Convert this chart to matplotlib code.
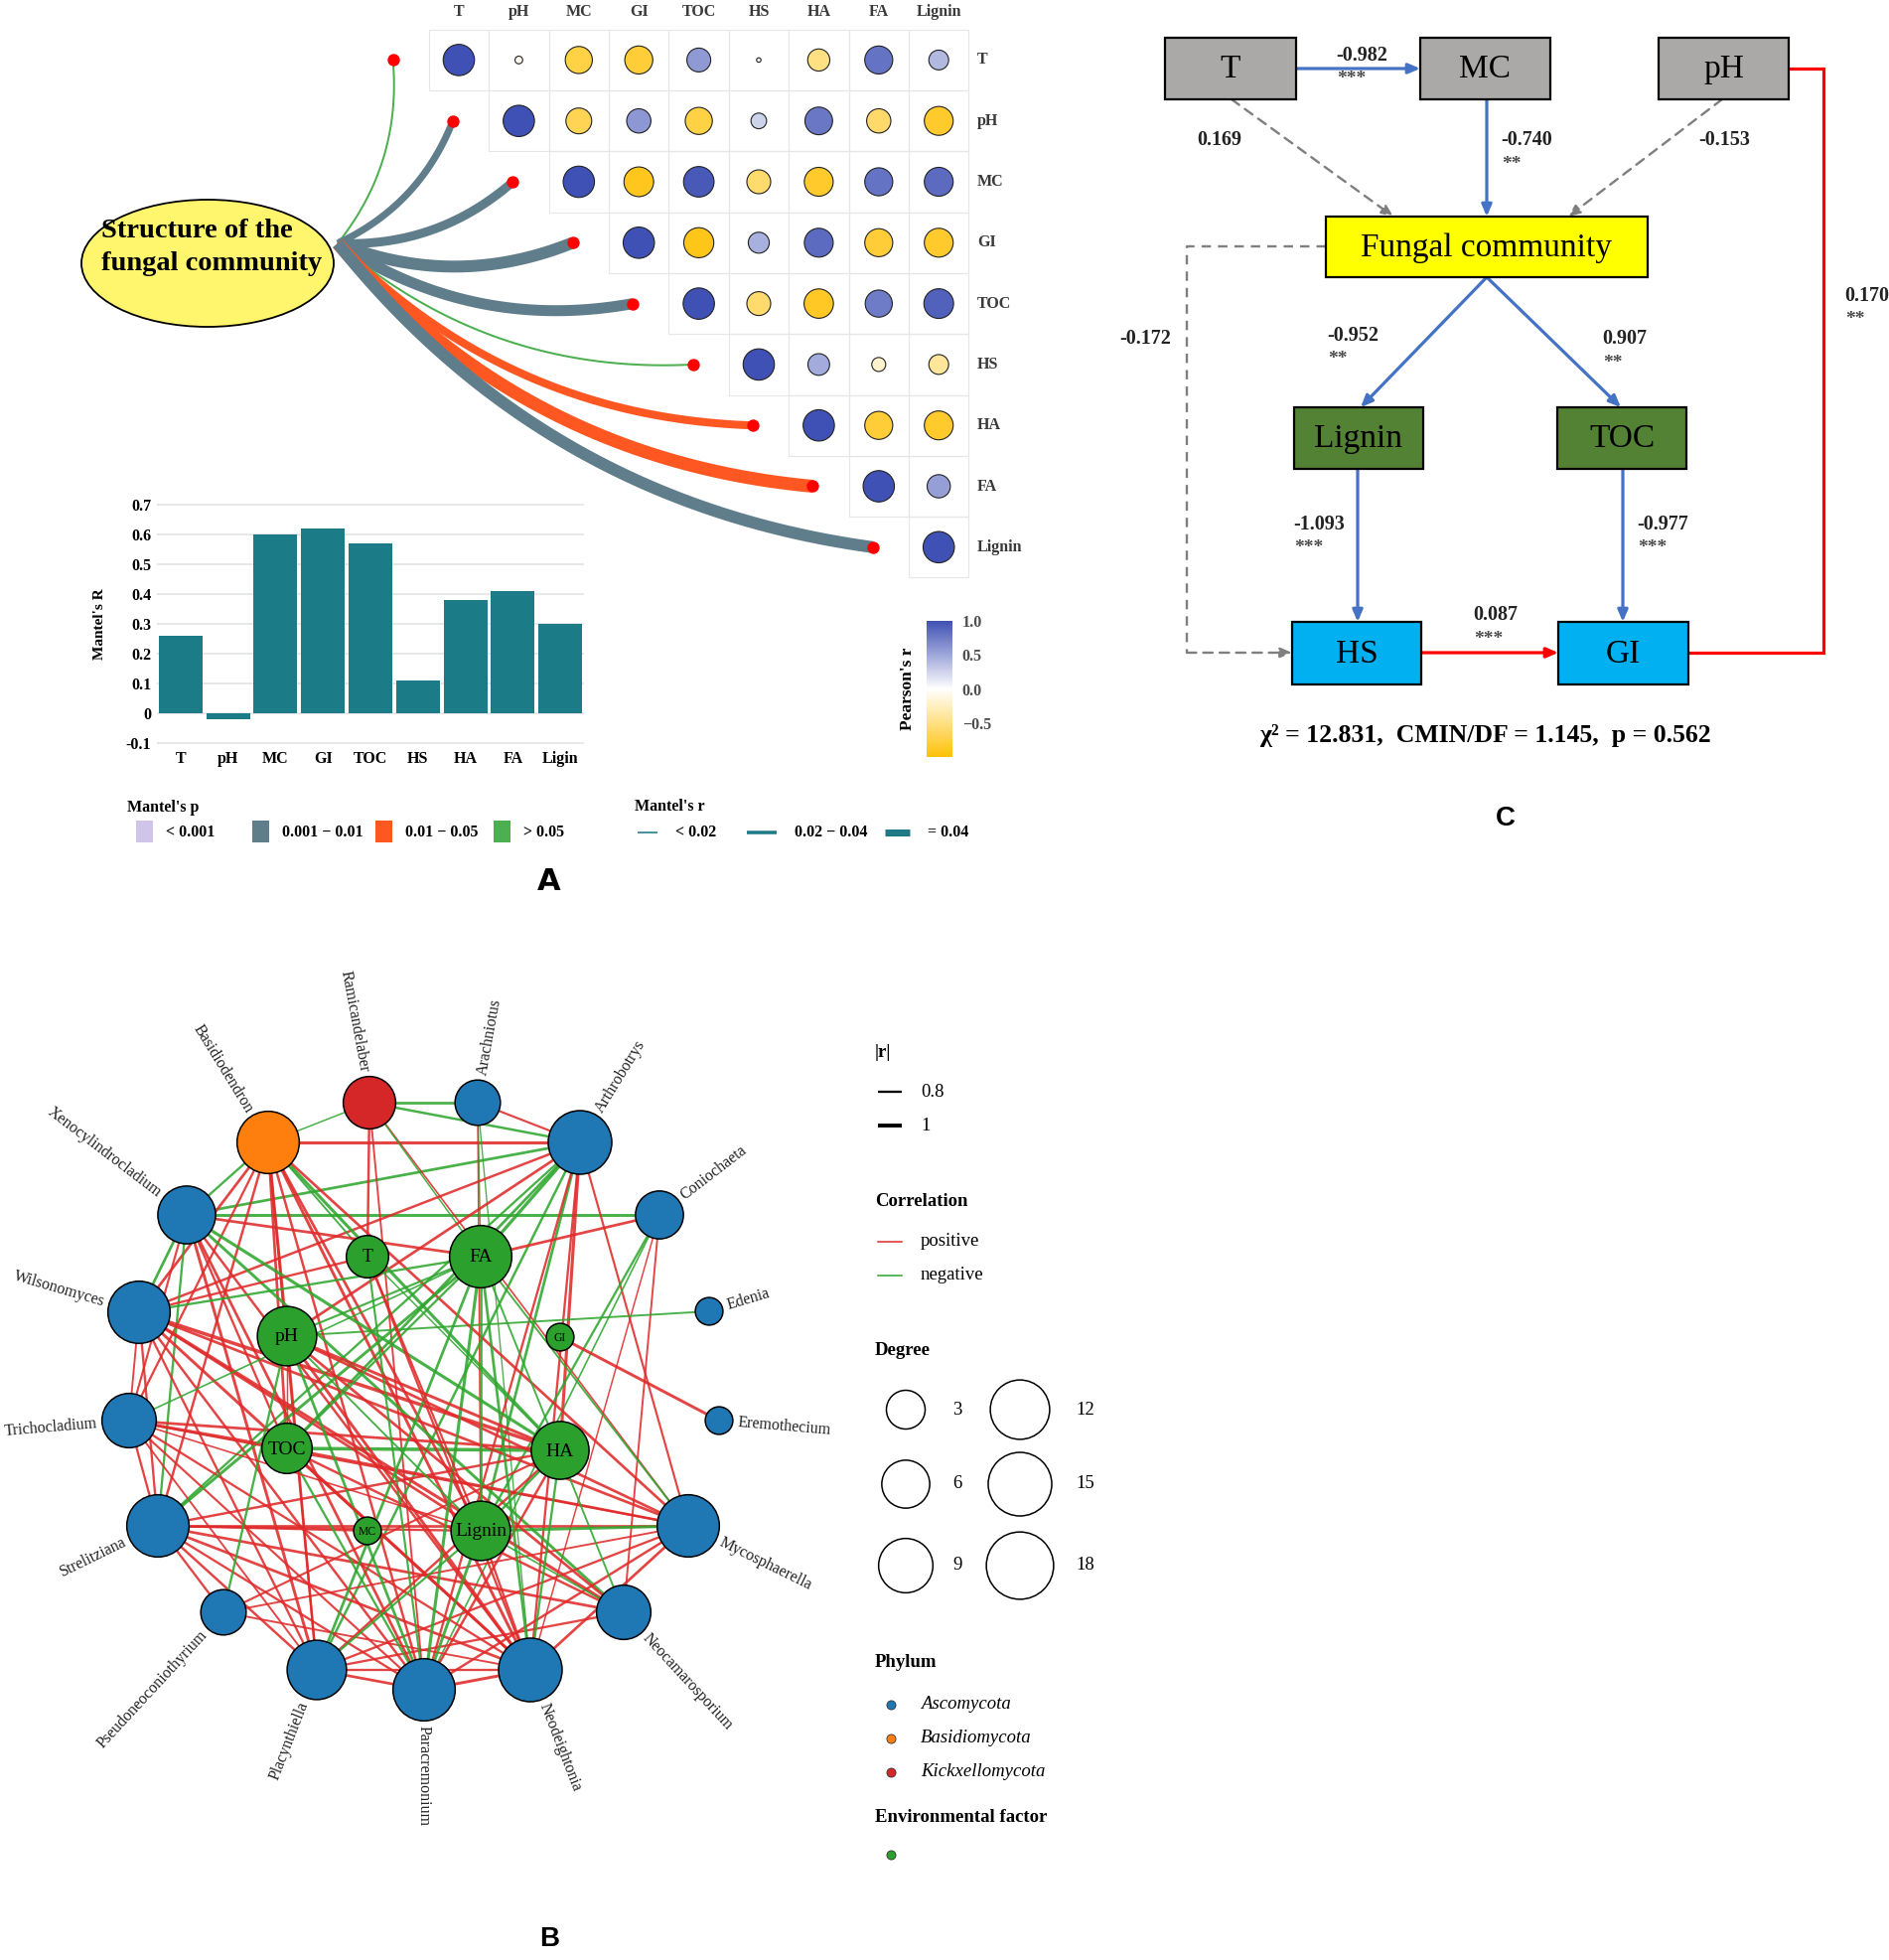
import matplotlib
matplotlib.use("Agg")
import matplotlib.pyplot as plt
import numpy as np
from matplotlib.patches import Ellipse, Rectangle, Circle
from matplotlib.colors import LinearSegmentedColormap, Normalize

W, H = 1902, 1973
SERIF = ["Liberation Serif", "DejaVu Serif"]
plt.rcParams["font.family"] = SERIF

# ---------------- panel A data ----------------
env_vars = ["T", "pH", "MC", "GI", "TOC", "HS", "HA", "FA", "Lignin"]
# upper triangle of Pearson's r, row i holds columns i..8
pearson_upper = [
    [1.0, -0.06, -0.75, -0.80, 0.58, 0.02, -0.50, 0.80, 0.40],
    [1.0, -0.68, 0.60, -0.75, 0.25, 0.78, -0.60, -0.85],
    [1.0, -0.90, 0.95, -0.58, -0.85, 0.80, 0.85],
    [1.0, -0.92, 0.45, 0.85, -0.80, -0.85],
    [1.0, -0.58, -0.88, 0.75, 0.90],
    [1.0, 0.48, -0.20, -0.40],
    [1.0, -0.80, -0.85],
    [1.0, 0.55],
    [1.0],
]
mantel_R = [0.26, -0.02, 0.60, 0.62, 0.57, 0.11, 0.38, 0.41, 0.30]
bar_labels = ["T", "pH", "MC", "GI", "TOC", "HS", "HA", "FA", "Ligin"]
mantel_p = [0.12, 0.004, 0.002, 0.002, 0.003, 0.35, 0.02, 0.015, 0.003]
link_r = [0.010, 0.035, 0.045, 0.060, 0.055, 0.010, 0.040, 0.065, 0.060]
p_labels = ["< 0.001", "0.001 \u2212 0.01", "0.01 \u2212 0.05", "> 0.05"]
r_labels = ["< 0.02", "0.02 \u2212 0.04", "= 0.04"]

# ---------------- panel C data ----------------
sem_boxes = ["T", "MC", "pH", "Fungal community", "Lignin", "TOC", "HS", "GI"]
sem_paths = [("T", "MC", "-0.982", "***", "neg"),
             ("T", "Fungal community", "0.169", "", "ns"),
             ("MC", "Fungal community", "-0.740", "**", "neg"),
             ("pH", "Fungal community", "-0.153", "", "ns"),
             ("Fungal community", "Lignin", "-0.952", "**", "neg"),
             ("Fungal community", "TOC", "0.907", "**", "neg"),
             ("Lignin", "HS", "-1.093", "***", "neg"),
             ("TOC", "GI", "-0.977", "***", "neg"),
             ("HS", "GI", "0.087", "***", "pos"),
             ("GI", "pH", "0.170", "**", "pos"),
             ("Fungal community", "HS", "-0.172", "", "ns")]
fit_text = "\u03c7\u00b2 = 12.831,  CMIN/DF = 1.145,  p = 0.562"

# ---------------- panel B data ----------------
genera = ["Ramicandelaber", "Arachniotus", "Basidiodendron", "Arthrobotrys",
          "Xenocylindrocladium", "Coniochaeta", "Wilsonomyces", "Edenia",
          "Trichocladium", "Eremothecium", "Strelitziana", "Mycosphaerella",
          "Pseudoneoconiothyrium", "Neocamarosporium", "Placynthiella",
          "Paracremonium", "Neodeightonia"]
genus_phylum = ["Kickxellomycota", "Ascomycota", "Basidiomycota", "Ascomycota",
                "Ascomycota", "Ascomycota", "Ascomycota", "Ascomycota",
                "Ascomycota", "Ascomycota", "Ascomycota", "Ascomycota",
                "Ascomycota", "Ascomycota", "Ascomycota", "Ascomycota", "Ascomycota"]
genus_degree = [8, 5, 14, 15, 11, 6, 14, 1, 9, 1, 14, 14, 5, 9, 12, 14, 15]
factors = ["T", "FA", "pH", "GI", "TOC", "HA", "MC", "Lignin"]
factor_degree = [4, 14, 12, 1, 7, 11, 1, 12]
phyla = ["Ascomycota", "Basidiomycota", "Kickxellomycota"]
degree_legend = [3, 6, 9, 12, 15, 18]
r_legend = [0.8, 1.0]
edges = [
    ("Ramicandelaber", "Arachniotus", -0.85), ("Ramicandelaber", "Arthrobotrys", -0.82),
    ("Arachniotus", "Arthrobotrys", 0.78), ("Basidiodendron", "Arthrobotrys", 0.90),
    ("Basidiodendron", "Ramicandelaber", -0.70), ("Xenocylindrocladium", "Coniochaeta", -0.88),
    ("Xenocylindrocladium", "Arthrobotrys", -0.85), ("Xenocylindrocladium", "Basidiodendron", -0.80),
    ("Ramicandelaber", "T", 0.82), ("Ramicandelaber", "Paracremonium", 0.75),
    ("Ramicandelaber", "Mycosphaerella", 0.72), ("Ramicandelaber", "FA", -0.70),
    ("Arachniotus", "FA", -0.70), ("Arachniotus", "Lignin", 0.70),
    ("Arachniotus", "Neodeightonia", -0.68), ("Arthrobotrys", "FA", -0.92),
    ("Arthrobotrys", "pH", 0.85), ("Arthrobotrys", "Wilsonomyces", 0.82),
    ("Arthrobotrys", "TOC", -0.85), ("Arthrobotrys", "HA", 0.90),
    ("Arthrobotrys", "Lignin", -0.85), ("Arthrobotrys", "Neodeightonia", 0.80),
    ("Arthrobotrys", "Placynthiella", -0.82), ("Arthrobotrys", "Mycosphaerella", 0.78),
    ("Arthrobotrys", "Strelitziana", -0.80), ("Arthrobotrys", "Paracremonium", 0.80),
    ("Coniochaeta", "FA", 0.85), ("Coniochaeta", "Lignin", -0.80),
    ("Coniochaeta", "Paracremonium", -0.72), ("Coniochaeta", "Neodeightonia", 0.70),
    ("Coniochaeta", "Neocamarosporium", 0.75), ("Edenia", "pH", -0.75),
    ("GI", "Eremothecium", 0.88), ("TOC", "HA", -0.95),
    ("Basidiodendron", "HA", -0.90), ("Basidiodendron", "Lignin", 0.85),
    ("Basidiodendron", "Neodeightonia", 0.88), ("Basidiodendron", "Mycosphaerella", 0.85),
    ("Basidiodendron", "Paracremonium", 0.82), ("Basidiodendron", "Placynthiella", 0.80),
    ("Basidiodendron", "TOC", 0.85), ("Basidiodendron", "T", -0.75),
    ("Basidiodendron", "pH", 0.85), ("Basidiodendron", "Strelitziana", 0.82),
    ("Basidiodendron", "Trichocladium", 0.80), ("Basidiodendron", "Wilsonomyces", 0.85),
    ("Xenocylindrocladium", "FA", 0.85), ("Xenocylindrocladium", "HA", -0.90),
    ("Xenocylindrocladium", "Neocamarosporium", -0.88), ("Xenocylindrocladium", "Paracremonium", 0.85),
    ("Xenocylindrocladium", "Placynthiella", 0.88), ("Xenocylindrocladium", "Neodeightonia", 0.82),
    ("Xenocylindrocladium", "TOC", 0.80), ("Xenocylindrocladium", "Strelitziana", -0.80),
    ("Xenocylindrocladium", "Trichocladium", 0.78), ("Xenocylindrocladium", "Wilsonomyces", -0.85),
    ("Wilsonomyces", "HA", 0.95), ("Wilsonomyces", "Neocamarosporium", 0.90),
    ("Wilsonomyces", "T", 0.80), ("Wilsonomyces", "FA", -0.80),
    ("Wilsonomyces", "Lignin", 0.85), ("Wilsonomyces", "Neodeightonia", 0.88),
    ("Wilsonomyces", "Mycosphaerella", 0.85), ("Wilsonomyces", "Paracremonium", 0.82),
    ("Wilsonomyces", "Placynthiella", 0.80), ("Wilsonomyces", "Strelitziana", 0.80),
    ("Wilsonomyces", "Trichocladium", 0.75), ("Trichocladium", "TOC", 0.88),
    ("Trichocladium", "HA", 0.85), ("Trichocladium", "FA", -0.72),
    ("Trichocladium", "Neodeightonia", 0.80), ("Trichocladium", "Paracremonium", 0.78),
    ("Trichocladium", "Strelitziana", 0.80), ("Trichocladium", "Placynthiella", 0.75),
    ("Strelitziana", "Mycosphaerella", 0.85), ("Strelitziana", "FA", -0.88),
    ("Strelitziana", "Lignin", 0.80), ("Strelitziana", "HA", 0.82),
    ("Strelitziana", "Neodeightonia", 0.85), ("Strelitziana", "Neocamarosporium", 0.85),
    ("Strelitziana", "Paracremonium", 0.80), ("Strelitziana", "Placynthiella", 0.82),
    ("Strelitziana", "Pseudoneoconiothyrium", 0.80), ("Strelitziana", "MC", 0.75),
    ("Mycosphaerella", "Lignin", -0.88), ("Mycosphaerella", "pH", 0.85),
    ("Mycosphaerella", "TOC", 0.82), ("Mycosphaerella", "FA", -0.75),
    ("Mycosphaerella", "Neodeightonia", 0.85), ("Mycosphaerella", "Paracremonium", 0.82),
    ("Mycosphaerella", "Placynthiella", 0.80), ("Mycosphaerella", "Trichocladium", 0.78),
    ("Mycosphaerella", "Pseudoneoconiothyrium", 0.75), ("Pseudoneoconiothyrium", "pH", -0.80),
    ("Pseudoneoconiothyrium", "HA", 0.78), ("Pseudoneoconiothyrium", "Neodeightonia", 0.75),
    ("Neocamarosporium", "pH", 0.85), ("Neocamarosporium", "TOC", 0.82),
    ("Neocamarosporium", "FA", -0.75), ("Neocamarosporium", "Placynthiella", 0.80),
    ("Neocamarosporium", "Lignin", -0.72), ("Placynthiella", "FA", -0.85),
    ("Placynthiella", "pH", 0.80), ("Placynthiella", "HA", 0.82),
    ("Placynthiella", "Paracremonium", 0.85), ("Placynthiella", "Neodeightonia", 0.80),
    ("Paracremonium", "FA", -0.90), ("Paracremonium", "pH", -0.85),
    ("Paracremonium", "TOC", -0.80), ("Paracremonium", "T", -0.78),
    ("Paracremonium", "HA", 0.82), ("Paracremonium", "Neodeightonia", 0.88),
    ("Neodeightonia", "FA", -0.85), ("Neodeightonia", "pH", 0.88),
    ("Neodeightonia", "TOC", 0.85), ("Neodeightonia", "T", 0.80),
    ("Neodeightonia", "HA", -0.80), ("pH", "HA", 0.88),
    ("pH", "Lignin", -0.75), ("pH", "TOC", 0.70),
    ("FA", "Lignin", -0.85), ("FA", "TOC", -0.80), ("FA", "pH", -0.78),
    ("T", "Lignin", 0.78), ("T", "HA", -0.70), ("Lignin", "HA", -0.80),
    ("Lignin", "Paracremonium", -0.88), ("Lignin", "Neodeightonia", 0.80),
    ("Lignin", "Placynthiella", -0.78), ("Lignin", "Trichocladium", 0.72),
]

# ---------------- figure ----------------
fig = plt.figure(figsize=(W / 100, H / 100), dpi=100)
ax = fig.add_axes([0, 0, 1, 1])
ax.set_xlim(0, W)
ax.set_ylim(H, 0)
ax.axis("off")


def px_axes(x0, y0, x1, y1):
    return fig.add_axes([x0 / W, 1 - y1 / H, (x1 - x0) / W, (y1 - y0) / H])


def bezier(p0, p2, rad, n=80):
    p0 = np.array(p0, float)
    p2 = np.array(p2, float)
    d = p2 - p0
    ctrl = (p0 + p2) / 2 + rad * np.array([-d[1], d[0]])
    t = np.linspace(0, 1, n)[:, None]
    return (1 - t) ** 2 * p0 + 2 * (1 - t) * t * ctrl + t ** 2 * p2


PX = 72 / 100  # px -> points

# ===== panel A : correlation matrix =====
cmap = LinearSegmentedColormap.from_list("pr", ["#FFC107", "#FFFFFF", "#3F51B5"])
norm = Normalize(-1, 1)
cx0, cdx = 462, 60.4
ry0, rdy = 60.4, 61.3
xs, ys, vals = [], [], []
for i, row in enumerate(pearson_upper):
    for k, v in enumerate(row):
        j = i + k
        ax.add_patch(Rectangle((cx0 + j * cdx - cdx / 2, ry0 + i * rdy - rdy / 2), cdx, rdy,
                               fill=False, ec="#E6E6E6", lw=0.8, zorder=1))
        xs.append(cx0 + j * cdx)
        ys.append(ry0 + i * rdy)
        vals.append(v)
vals = np.array(vals)
sc = ax.scatter(xs, ys, s=np.abs(vals) * (31.5 * PX) ** 2, c=vals, cmap=cmap, norm=norm,
                edgecolors="#222222", linewidths=0.8, zorder=3)
for j, name in enumerate(env_vars):
    ax.text(cx0 + j * cdx, 12, name, ha="center", va="center", fontsize=11.5,
            fontweight="bold", color="#3A3A3A")
    ax.text(984, ry0 + j * rdy, name, ha="left", va="center", fontsize=11.5,
            fontweight="bold", color="#3A3A3A")

# mantel links
p_colors = ["#D1C4E9", "#607D8B", "#FF5722", "#4CAF50"]


def p_class(p):
    return 0 if p < 0.001 else 1 if p < 0.01 else 2 if p < 0.05 else 3


anchor = (340, 245)
for i in range(len(env_vars)):
    end = (cx0 + (i - 1) * cdx - 6, ry0 + i * rdy)
    pts = bezier(anchor, end, 0.2)
    ax.plot(pts[:, 0], pts[:, 1], color=p_colors[p_class(mantel_p[i])],
            lw=link_r[i] * 200 * PX, solid_capstyle="butt", zorder=2)
    ax.plot(*end, "o", color="#FF0000", ms=11 * PX, zorder=4)

ax.add_patch(Ellipse((209, 265), 254, 128, fc="#FFF66E", ec="black", lw=1.3, zorder=5))
ax.text(102, 249, "Structure of the\nfungal community", ha="left", va="center",
        multialignment="left", fontsize=20.5, fontweight="bold", linespacing=1.4, zorder=6)

# colorbar
cax = px_axes(933, 625, 959, 762)
cb = fig.colorbar(sc, cax=cax, ticks=[-0.5, 0, 0.5, 1.0])
cb.outline.set_visible(False)
cb.ax.set_yticklabels(["\u22120.5", "0.0", "0.5", "1.0"])
cb.ax.tick_params(length=3, color="white", labelsize=11.5, labelcolor="#4D4D4D", pad=4)
for t in cb.ax.get_yticklabels():
    t.set_fontweight("bold")
cb.ax.yaxis.set_label_position("left")
cb.set_label("Pearson's r", fontsize=12.5, fontweight="bold", labelpad=8)

# bar chart
axb = px_axes(158, 505, 588, 751.5)
xpos = np.arange(len(mantel_R))
axb.bar(xpos, mantel_R, width=0.92, color="#1B7B87", zorder=3)
axb.set_xlim(-0.5, len(mantel_R) - 0.5)
axb.set_ylim(-0.11, 0.71)
yt = np.round(np.arange(-0.1, 0.71, 0.1), 1)
axb.set_yticks(yt)
axb.set_yticklabels([f"{v:g}" for v in yt])
axb.set_xticks(xpos)
axb.set_xticklabels(bar_labels)
axb.grid(axis="y", color="#E6E6E6", lw=1.3, zorder=0)
for s in axb.spines.values():
    s.set_visible(False)
axb.tick_params(length=0, labelsize=11.5, pad=4)
axb.tick_params(axis="x", pad=3)
for t in axb.get_xticklabels() + axb.get_yticklabels():
    t.set_fontweight("bold")
axb.set_ylabel("Mantel's R", fontsize=11, fontweight="bold", labelpad=14)
axb.patch.set_alpha(0)

# legends of A
ax.text(128, 813, "Mantel's p", fontsize=11.5, fontweight="bold", va="center")
for k, (lab, x0) in enumerate(zip(p_labels, [137, 254, 378, 497])):
    ax.add_patch(Rectangle((x0, 826), 17, 22, fc=p_colors[k], ec="none"))
    ax.text(x0 + 30, 838, lab, fontsize=11.5, fontweight="bold", va="center")
ax.text(639, 812, "Mantel's r", fontsize=11.5, fontweight="bold", va="center")
for lab, (x0, x1), lw in zip(r_labels, [(642, 662), (752, 782), (891, 916)], [1.6, 3.5, 7]):
    ax.plot([x0, x1], [838, 838], color="#1F7A85", lw=lw * PX, solid_capstyle="butt")
    ax.text(x1 + 18, 838, lab, fontsize=11.5, fontweight="bold", va="center")
ax.text(553, 887, "A", ha="center", va="center", fontsize=22, fontweight="bold",
        family=["Liberation Sans Narrow", "DejaVu Sans"])

# ===== panel C : SEM =====
box_xy = {"T": (1173, 38, 1305, 100), "MC": (1430, 38, 1561, 100),
          "pH": (1670, 38, 1801, 100), "Fungal community": (1335, 218, 1659, 279),
          "Lignin": (1303, 410, 1433, 472), "TOC": (1568, 410, 1698, 472),
          "HS": (1301, 626, 1431, 689), "GI": (1569, 626, 1700, 689)}
box_fc = {"T": "#ABA8A8", "MC": "#ABA8A8", "pH": "#ABA8A8", "Fungal community": "#FFFF00",
          "Lignin": "#548235", "TOC": "#548235", "HS": "#00B0F0", "GI": "#00B0F0"}
for name in sem_boxes:
    x0, y0, x1, y1 = box_xy[name]
    ax.add_patch(Rectangle((x0, y0), x1 - x0, y1 - y0, fc=box_fc[name], ec="black", lw=1.6, zorder=3))
    ax.text((x0 + x1) / 2, (y0 + y1) / 2 + 1, name, ha="center", va="center", fontsize=24, zorder=4)

path_style = {"neg": ("#4472C4", "-", 2.3), "pos": ("#FF0000", "-", 2.3), "ns": ("#7F7F7F", (0, (4, 3)), 1.7)}
# routing of each path in pixel space, and label anchor
routes = [
    [(1305, 69), (1430, 69)],
    [(1240, 100), (1403, 218)],
    [(1497, 100), (1497, 218)],
    [(1734, 100), (1579, 218)],
    [(1497, 279), (1370, 410)],
    [(1497, 279), (1632, 410)],
    [(1367, 472), (1367, 626)],
    [(1634, 472), (1634, 626)],
    [(1431, 657), (1569, 657)],
    [(1700, 657), (1836, 657), (1836, 69), (1801, 69)],
    [(1335, 248), (1195, 248), (1195, 657), (1301, 657)],
]
arrow_end = [True, True, True, True, True, True, True, True, True, False, True]
label_xy = [(1345, 56), (1205, 141), (1511, 141), (1710, 141), (1336, 338), (1613, 341),
            (1302, 528), (1648, 528), (1483, 619), (1857, 298), (1127, 341)]
for (src, dst, coef, star, kind), route, head, (lx, ly) in zip(sem_paths, routes, arrow_end, label_xy):
    col, ls, lw = path_style[kind]
    pts = np.array(route, float)
    if head:
        if len(pts) > 2:
            ax.plot(pts[:-1, 0], pts[:-1, 1], color=col, lw=lw, ls=ls, zorder=2)
        ax.annotate("", xy=tuple(pts[-1]), xytext=tuple(pts[-2]), zorder=2,
                    arrowprops=dict(arrowstyle="-|>,head_length=0.7,head_width=0.3", color=col,
                                    lw=lw, ls=ls, shrinkA=0, shrinkB=0))
    else:
        ax.plot(pts[:, 0], pts[:, 1], color=col, lw=lw, ls=ls, zorder=2, solid_joinstyle="miter")
    ax.text(lx, ly, coef, fontsize=14.5, fontweight="bold", va="center", ha="left", color="#222222")
    if star:
        ax.text(lx + 1, ly + 24, star, fontsize=14, fontweight="bold", va="center", ha="left",
                color="#4A4A4A")
ax.text(1495, 741, fit_text, ha="center", va="center", fontsize=18.5, fontweight="bold")
ax.text(1516, 824, "C", ha="center", va="center", fontsize=20, fontweight="bold",
        family=["Liberation Sans", "DejaVu Sans"])

# ===== panel B : network =====
node_xy = {
    "Ramicandelaber": (372, 1110), "Arachniotus": (481, 1110), "Basidiodendron": (270, 1150),
    "Arthrobotrys": (584, 1150), "Xenocylindrocladium": (188, 1223), "Coniochaeta": (664, 1223),
    "Wilsonomyces": (140, 1321), "Edenia": (714, 1320), "Trichocladium": (130, 1430),
    "Eremothecium": (724, 1430), "Strelitziana": (159, 1536), "Mycosphaerella": (693, 1536),
    "Pseudoneoconiothyrium": (225, 1623), "Neocamarosporium": (628, 1623),
    "Placynthiella": (319, 1681), "Paracremonium": (427, 1701), "Neodeightonia": (534, 1681),
    "T": (370, 1265), "FA": (484, 1265), "pH": (289, 1345), "GI": (564, 1346),
    "TOC": (289, 1458), "HA": (564, 1460), "MC": (370, 1541), "Lignin": (484, 1541),
}
net_center = (427, 1405)
phylum_color = {"Ascomycota": "#1F77B4", "Basidiomycota": "#FF7F0E", "Kickxellomycota": "#D62728"}
env_color = "#2CA02C"


def node_radius(d):
    return 13.9 * d ** 0.308


def edge_width(r):
    return max(0.6, 2.3 + (abs(r) - 0.8) * 8)


for a, b, r in edges:
    (x0, y0), (x1, y1) = node_xy[a], node_xy[b]
    ax.plot([x0, x1], [y0, y1], color="#E02A2A" if r > 0 else "#2FA62F",
            lw=edge_width(r) * PX, alpha=0.88, zorder=2, solid_capstyle="butt")

for name, ph, d in zip(genera, genus_phylum, genus_degree):
    x, y = node_xy[name]
    rad = node_radius(d)
    ax.add_patch(Circle((x, y), rad, fc=phylum_color[ph], ec="black", lw=1.1, zorder=4))
    ang = np.degrees(np.arctan2(-(y - net_center[1]), x - net_center[0]))
    right = np.cos(np.radians(ang)) >= -1e-6
    ux, uy = np.cos(np.radians(ang)), -np.sin(np.radians(ang))
    rot = ang if right else ang + 180
    ax.text(x + ux * (rad + 5), y + uy * (rad + 5), name, rotation=rot, rotation_mode="anchor",
            ha="left" if right else "right", va="center", fontsize=11.5, color="#222222", zorder=5)

for name, d in zip(factors, factor_degree):
    x, y = node_xy[name]
    rad = node_radius(d)
    ax.add_patch(Circle((x, y), rad, fc=env_color, ec="black", lw=1.1, zorder=4))
    ax.text(x, y + 1, name, ha="center", va="center", fontsize=min(14, 0.6 * rad), zorder=5)

# legend of B
ax.text(881, 1060, "|r|", fontsize=13.5, fontweight="bold", va="center")
for r, y in zip(r_legend, [1099, 1133]):
    ax.plot([884, 908], [y, y], color="black", lw=edge_width(r) * PX, solid_capstyle="butt")
    ax.text(927, y, f"{r:g}", fontsize=13.5, va="center")
ax.text(881, 1209, "Correlation", fontsize=13.5, fontweight="bold", va="center")
for lab, col, y in zip(["positive", "negative"], ["#E02A2A", "#2FA62F"], [1250, 1284]):
    ax.plot([884, 908], [y, y], color=col, lw=1.1)
    ax.text(927, y, lab, fontsize=13.5, va="center")
ax.text(881, 1359, "Degree", fontsize=13.5, fontweight="bold", va="center")
deg_pos = [(912, 1419), (912, 1494), (912, 1576), (1027, 1419), (1027, 1494), (1027, 1576)]
deg_lab_x = [964, 964, 964, 1093, 1093, 1093]
for d, (x, y), lx in zip(degree_legend, deg_pos, deg_lab_x):
    ax.add_patch(Circle((x, y), node_radius(d), fill=False, ec="black", lw=1.1))
    ax.text(lx, y, str(d), fontsize=13.5, va="center", ha="center")
ax.text(881, 1674, "Phylum", fontsize=13.5, fontweight="bold", va="center")
for ph, y in zip(phyla, [1716, 1750, 1784]):
    ax.plot(897, y, "o", ms=7 * PX * 1.3, mfc=phylum_color[ph], mec="#333333", mew=0.6)
    ax.text(927, y, ph, fontsize=13.5, va="center", style="italic")
ax.text(881, 1830, "Environmental factor", fontsize=13.5, fontweight="bold", va="center")
ax.plot(897, 1867, "o", ms=7 * PX * 1.3, mfc=env_color, mec="#333333", mew=0.6)
ax.text(553, 1952, "B", ha="center", va="center", fontsize=20, fontweight="bold",
        family=["Liberation Sans", "DejaVu Sans"])

fig.savefig("out.png", dpi=100, facecolor="white")
